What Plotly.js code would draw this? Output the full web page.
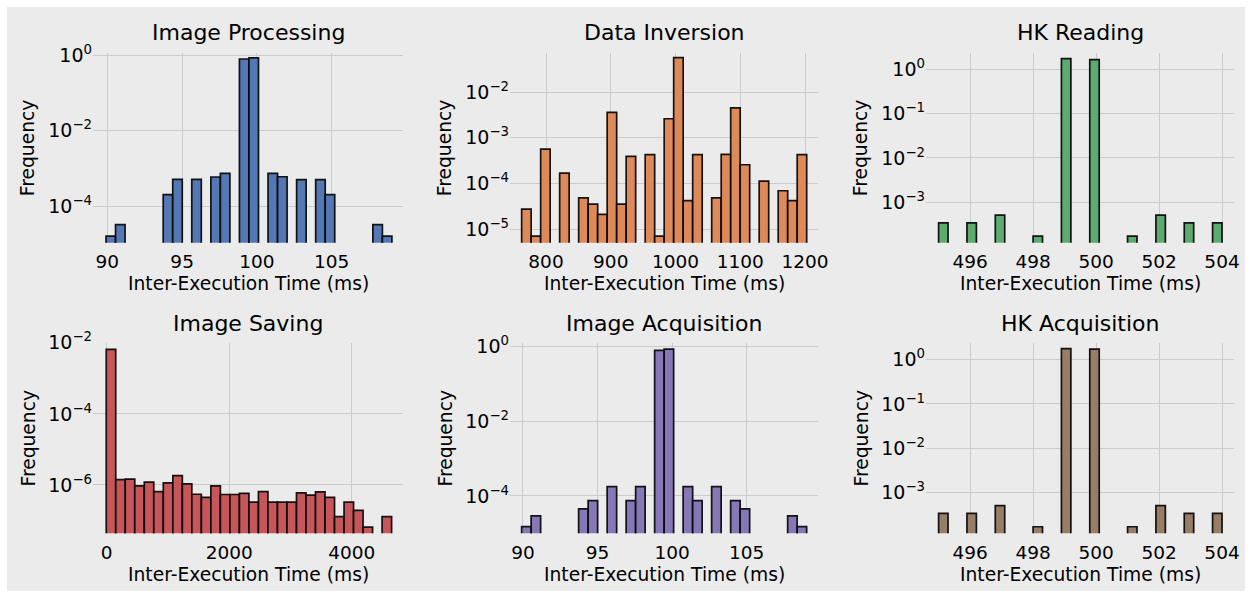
<!DOCTYPE html>
<html>
<head>
<meta charset="utf-8">
<script src="https://cdn.plot.ly/plotly-3.0.1.min.js"></script>
<style>
  html, body { margin: 0; padding: 0; background: #ffffff; }
  #chart { position: absolute; left: 7px; top: 7px; width: 1238px; height: 584px; }
</style>
</head>
<body>
<div id="chart"></div>
<script>
// ---------------- data ----------------
const panelTitles = ["Image Processing", "Data Inversion", "HK Reading",
                     "Image Saving", "Image Acquisition", "HK Acquisition"];
const xAxisLabel = "Inter-Execution Time (ms)";
const yAxisLabel = "Frequency";

// Image Processing (30 bins)
const ipBinStart = 89.91, ipBinWidth = 0.6373;
const ipFreq = [1.6e-5, 3.2e-5, null, null, null, null, 2.0e-4, 5.1e-4, null, 5.1e-4,
                null, 5.9e-4, 7.4e-4, null, 0.80, 0.86, null, 7.4e-4, 6.0e-4, null,
                5.0e-4, null, 5.0e-4, 2.0e-4, null, null, null, null, 3.2e-5, 1.6e-5];

// Data Inversion (30 bins)
const diBinStart = 762.4, diBinWidth = 14.673;
const diFreq = [2.74e-5, 7.0e-6, 5.6e-4, null, 1.68e-4, null, 4.8e-5, 3.5e-5, 2.1e-5, 3.6e-3,
                3.5e-5, 3.9e-4, null, 4.25e-4, 7.0e-6, 2.6e-3, 5.65e-2, 4.2e-5, 4.25e-4, null,
                4.8e-5, 4.3e-4, 4.5e-3, 2.56e-4, null, 1.12e-4, null, 6.9e-5, 4.2e-5, 4.25e-4];

// HK Reading (30 bins)
const hkrBinStart = 495, hkrBinWidth = 0.3;
const hkrFreq = [3.4e-4, null, null, 3.4e-4, null, null, 5.1e-4, null, null, null,
                 1.7e-4, null, null, 1.77, null, null, 1.68, null, null, null,
                 1.7e-4, null, null, 5.1e-4, null, null, 3.4e-4, null, null, 3.4e-4];

// Image Saving (30 bins)
const isBinStart = -8, isBinWidth = 155.3;
const isFreq = [6.5e-3, 1.41e-6, 1.47e-6, 9.4e-7, 1.21e-6, 6.5e-7, 1.14e-6, 1.83e-6, 1.07e-6, 5.5e-7,
                4.5e-7, 9.4e-7, 5.4e-7, 5.4e-7, 5.8e-7, 3.3e-7, 6.5e-7, 3.3e-7, 3.3e-7, 3.3e-7,
                6.0e-7, 5.2e-7, 6.4e-7, 4.5e-7, 1.29e-7, 3.3e-7, 1.94e-7, 6.5e-8, null, 1.29e-7];

// Image Acquisition (30 bins)
const iaBinStart = 89.91, iaBinWidth = 0.6373;
const iaFreq = [1.52e-5, 2.93e-5, null, null, null, null, 4.5e-5, 7.5e-5, null, 1.77e-4,
                null, 7.5e-5, 1.77e-4, null, 0.766, 0.83, null, 1.77e-4, 7.5e-5, null,
                1.77e-4, null, 7.5e-5, 4.5e-5, null, null, null, null, 2.93e-5, 1.52e-5];

// HK Acquisition (30 bins)
const hkaBinStart = 495, hkaBinWidth = 0.3;
const hkaFreq = [3.4e-4, null, null, 3.4e-4, null, null, 5.1e-4, null, null, null,
                 1.7e-4, null, null, 1.77, null, null, 1.72, null, null, null,
                 1.7e-4, null, null, 5.1e-4, null, null, 3.4e-4, null, null, 3.4e-4];

// tick values
const xTicksIP = [90, 95, 100, 105];
const xTicksDI = [800, 900, 1000, 1100, 1200];
const xTicksHK = [496, 498, 500, 502, 504];
const xTicksIS = [0, 2000, 4000];
const yExpIP = [0, -2, -4];
const yExpDI = [-2, -3, -4, -5];
const yExpHK = [0, -1, -2, -3];
const yExpIS = [-2, -4, -6];

// ---------------- styling / layout ----------------
const colors = ["#4C72B0", "#DD8452", "#55A868", "#C44E52", "#8172B3", "#937860"];
const FONT = "DejaVu Sans, Liberation Sans, sans-serif";
const W = 1238, H = 584, OX = 7, OY = 7;
const px2x = p => (p - OX) / W;
const px2y = p => 1 - (p - OY) / H;

const colPx = [[93, 403], [510, 818.3], [926, 1234]];
const rowPx = [[52.7, 242.7], [342.7, 533.3]];

const panels = [
  {start: ipBinStart,  width: ipBinWidth,  freq: ipFreq,  xt: xTicksIP, ye: yExpIP, xr: [89.04, 109.77], yr: [-4.973, 0.071]},
  {start: diBinStart,  width: diBinWidth,  freq: diFreq,  xt: xTicksDI, ye: yExpDI, xr: [744.4, 1220.5], yr: [-5.299, -1.139]},
  {start: hkrBinStart, width: hkrBinWidth, freq: hkrFreq, xt: xTicksHK, ye: yExpHK, xr: [494.60, 504.38], yr: [-3.917, 0.38]},
  {start: isBinStart,  width: isBinWidth,  freq: isFreq,  xt: xTicksIS, ye: yExpIS, xr: [-224, 4837], yr: [-7.358, -2.0]},
  {start: iaBinStart,  width: iaBinWidth,  freq: iaFreq,  xt: xTicksIP, ye: yExpIP, xr: [89.13, 109.81], yr: [-4.996, 0.089]},
  {start: hkaBinStart, width: hkaBinWidth, freq: hkaFreq, xt: xTicksHK, ye: yExpHK, xr: [494.60, 504.38], yr: [-3.917, 0.38]}
];

function hexA(hex, a) {
  const r = parseInt(hex.slice(1, 3), 16), g = parseInt(hex.slice(3, 5), 16), b = parseInt(hex.slice(5, 7), 16);
  return `rgba(${r},${g},${b},${a})`;
}
function supText(e) { return "10<sup>" + (e < 0 ? "\u2212" + (-e) : e) + "</sup>"; }

const traces = [];
const layout = {
  width: W, height: H,
  margin: {l: 0, r: 0, t: 0, b: 0},
  paper_bgcolor: "#ebebeb",
  plot_bgcolor: "#ebebeb",
  showlegend: false,
  font: {family: FONT, color: "#000000", size: 18.5},
  annotations: []
};

panels.forEach((p, i) => {
  const row = Math.floor(i / 3), col = i % 3;
  const n = i + 1;
  const xa = "x" + (n === 1 ? "" : n), ya = "y" + (n === 1 ? "" : n);
  const xKey = "xaxis" + (n === 1 ? "" : n), yKey = "yaxis" + (n === 1 ? "" : n);
  const centers = p.freq.map((_, k) => p.start + (k + 0.5) * p.width);
  traces.push({
    type: "bar", x: centers, y: p.freq, width: p.width,
    xaxis: xa, yaxis: ya,
    marker: {color: hexA(colors[i], 0.95), line: {color: "rgba(10,10,10,0.95)", width: 1.7}},
    hoverinfo: "x+y"
  });
  const [x0, x1] = colPx[col], [y0, y1] = rowPx[row];
  layout[xKey] = {
    domain: [px2x(x0), px2x(x1)], anchor: ya, range: p.xr,
    tickmode: "array", tickvals: p.xt, ticktext: p.xt.map(String),
    showgrid: true, gridcolor: "#cbcbcb", gridwidth: 1,
    zeroline: false, showline: false, ticks: "", ticklabelstandoff: 6,
    tickfont: {family: FONT, size: 18.5, color: "#000"}
  };
  layout[yKey] = {
    domain: [px2y(y1), px2y(y0)], anchor: xa, type: "log", range: p.yr,
    tickmode: "array", tickvals: p.ye.map(e => Math.pow(10, e)), ticktext: p.ye.map(supText),
    showgrid: true, gridcolor: "#cbcbcb", gridwidth: 1,
    zeroline: false, showline: false, ticks: "", ticklabelstandoff: 0,
    tickfont: {family: FONT, size: 19, color: "#000"}
  };
  const cx = (x0 + x1) / 2, cy = (y0 + y1) / 2;
  // subplot title
  layout.annotations.push({
    text: panelTitles[i], xref: "paper", yref: "paper",
    x: px2x(cx), y: px2y(row === 0 ? 33 : 323.5), xanchor: "center", yanchor: "middle",
    showarrow: false, font: {family: FONT, size: 22, color: "#000"}
  });
  // x axis label
  layout.annotations.push({
    text: xAxisLabel, xref: "paper", yref: "paper",
    x: px2x(cx), y: px2y(row === 0 ? 283.5 : 574), xanchor: "center", yanchor: "middle",
    showarrow: false, font: {family: FONT, size: 18.7, color: "#000"}
  });
  // y axis label
  layout.annotations.push({
    text: yAxisLabel, xref: "paper", yref: "paper", textangle: -90,
    x: px2x(x0 - 65.5), y: px2y(cy), xanchor: "center", yanchor: "middle",
    showarrow: false, font: {family: FONT, size: 18.7, color: "#000"}
  });
});

Plotly.newPlot("chart", traces, layout, {displayModeBar: false, staticPlot: true});
</script>
</body>
</html>
